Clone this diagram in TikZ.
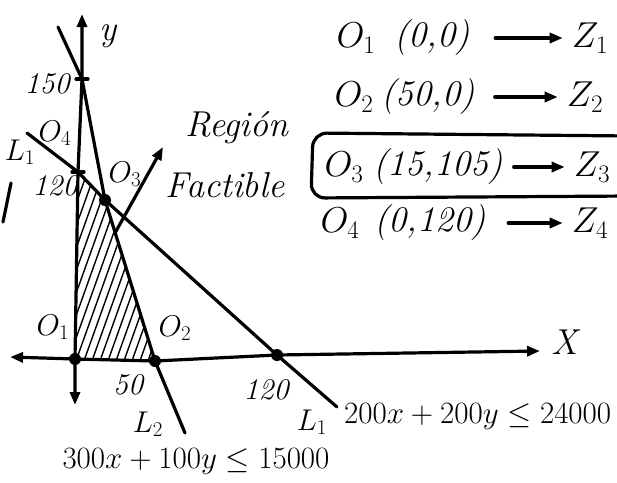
\RequirePackage{fix-cm}
\documentclass[tikz,border=0pt]{standalone}
\usepackage{amsmath}
\usepackage{tikz}
\usetikzlibrary{arrows.meta,positioning,calc}

\begin{document}
\begin{tikzpicture}[x=1pt,y=-1pt,>={Triangle[length=13pt,width=10pt]},
   pen/.style={line width=3.2pt,line cap=round,line join=round},
   hatch/.style={line width=1.4pt},
   lbl/.style={font=\fontsize{30}{32}\selectfont\itshape,inner sep=1pt},
   big/.style={font=\fontsize{36}{40}\selectfont\itshape,inner sep=1pt},
   eqn/.style={font=\fontsize{31}{34}\selectfont,inner sep=1pt}]
  \useasboundingbox (0,0) rectangle (617,482);
  \clip (0,0) rectangle (617,482);
  % corner points and ends of the lines
  \coordinate (o1) at (75,359);
  \coordinate (o2) at (155,361);
  \coordinate (o3) at (105,200);
  \coordinate (o4) at (78,172);
  \coordinate (x120) at (277,355);
  \coordinate (y150) at (82,79);
  \coordinate (xl) at (10,357);
  \coordinate (xr) at (540,351);
  \coordinate (yb) at (75,405);
  \coordinate (yt) at (82,14);
  \coordinate (l1a) at (27,133);
  \coordinate (l1b) at (337,407);
  \coordinate (l2a) at (58,27);
  \coordinate (l2b) at (185,433);
  \coordinate (tail) at (115,233);
  \coordinate (tip) at (163,147);
  % hatched feasible region
  \begin{scope}
    \clip (o1) -- (o4) -- (o3) -- (o2) -- cycle;
    \foreach \s in {-40,-32,...,170}
      \draw[hatch] (\s,372) -- ++(85,-238);
  \end{scope}
  % axes and constraint lines
  \draw[pen,<->] (xl) -- (o1) -- (o2) -- (x120) -- (xr);
  \draw[pen,<->] (yb) -- (o1) -- (o4) -- (y150) -- (yt);
  \draw[pen] (l2a) -- (y150) -- (o3) -- (o2) -- (l2b);
  \draw[pen] (l1a) -- (o4) -- (o3) -- (x120) -- (l1b);
  \draw[pen,->] (tail) -- (tip);
  \draw[pen] (11,183) -- (3,222);
  \foreach \p in {o1,o2,o3,x120}
    \fill (\p) circle (6);
  \foreach \p in {o4,y150}
    \draw[pen] ($(\p)+(-6,0)$) -- ($(\p)+(6,0)$);
  % labels of the plot
  \node[big] (ylab) at (108,36) {y};
  \node[big] (xlab) at (565,342) {X};
  \node[lbl] (t150) at (47,84) {150};
  \node[lbl] (t120y) at (55,186) {120};
  \node[lbl] (t50) at (128,385) {50};
  \node[lbl] (t120x) at (266,390) {120};
  \node[lbl] (lo1) at (53,327) {$O_1$};
  \node[lbl] (lo2) at (175,328) {$O_2$};
  \node[lbl] (lo3) at (125,174) {$O_3$};
  \node[lbl] (lo4) at (55,133) {$O_4$};
  \node[lbl] (ln1a) at (20,152) {$L_1$};
  \node[lbl] (ln1b) at (312,422) {$L_1$};
  \node[lbl] (ln2) at (148,424) {$L_2$};
  \node[big] (reg) at (237,128) {Región};
  \node[big] (fac) at (225,185) {Factible};
  \node[eqn,anchor=west] (eq1) at (343,417) {$200x+200y\leq 24000$};
  \node[eqn] (eq2) at (196,462) {$300x+100y\leq 15000$};
  % corner points and their values
  \foreach \i/\y/\txt/\xo/\xc/\w/\xz in
     {1/38/{(0,0)}/356/432/110/590,
      2/97/{(50,0)}/354/428/117/585,
      3/167/{(15,105)}/344/438/135/592,
      4/223/{(0,120)}/340/430/140/590}{
     \node[big] (p\i) at (\xo,\y) {$O_{\i}$};
     \node[big,minimum width=\w] (c\i) at (\xc,\y) {\txt};
     \node[big] (z\i) at (\xz,\y) {$Z_{\i}$};
     \draw[pen,->,shorten <=8pt,shorten >=8pt] (c\i) -- (z\i);}
  \draw[pen,rounded corners=14pt] (630,136) -- (313,133) -- (311,198) -- (630,196);
\end{tikzpicture}
\end{document}
